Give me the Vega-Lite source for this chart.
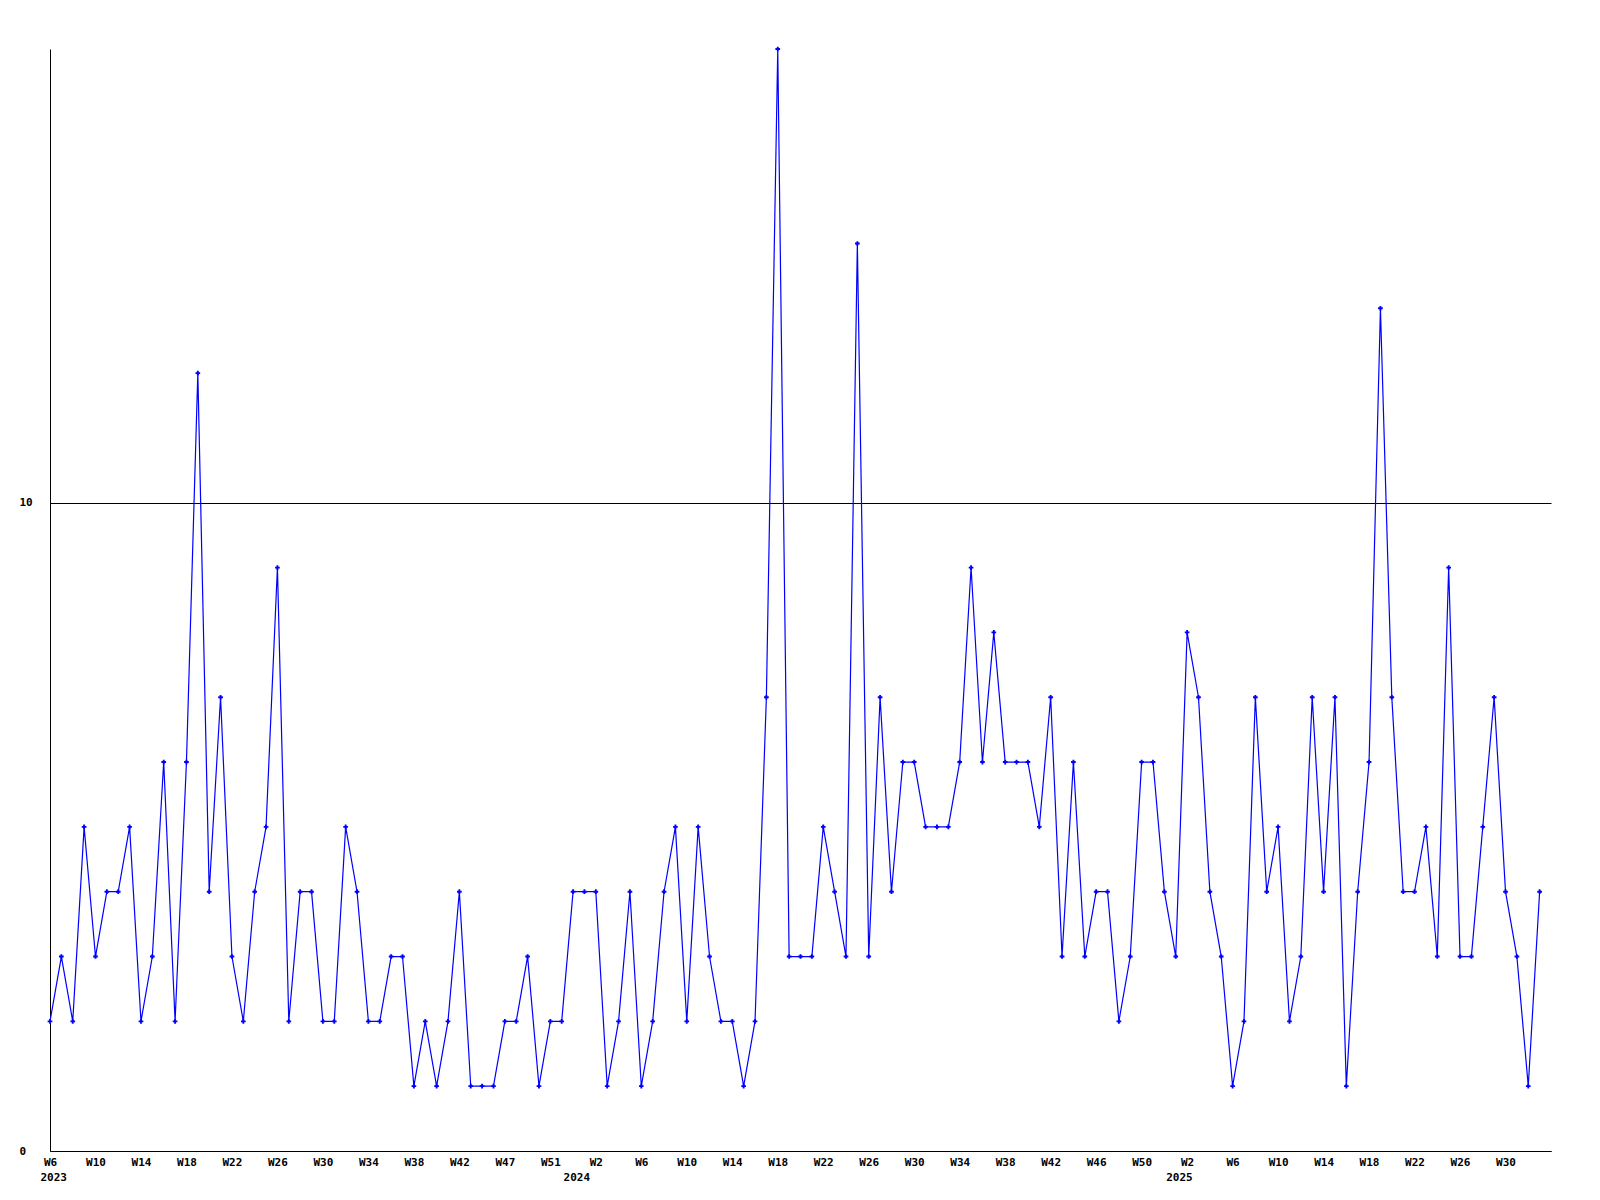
{
  "$schema": "https://vega.github.io/schema/vega-lite/v6.json",
  "width": 1501,
  "height": 1102,
  "autosize": "none",
  "padding": {"left": 50, "top": 49, "right": 49, "bottom": 49},
  "background": "white",
  "config": {"view": {"stroke": null}},
  "data": {"values": [
    {"week_start": "2023-02-06", "count": 2},
    {"week_start": "2023-02-13", "count": 3},
    {"week_start": "2023-02-20", "count": 2},
    {"week_start": "2023-02-27", "count": 5},
    {"week_start": "2023-03-06", "count": 3},
    {"week_start": "2023-03-13", "count": 4},
    {"week_start": "2023-03-20", "count": 4},
    {"week_start": "2023-03-27", "count": 5},
    {"week_start": "2023-04-03", "count": 2},
    {"week_start": "2023-04-10", "count": 3},
    {"week_start": "2023-04-17", "count": 6},
    {"week_start": "2023-04-24", "count": 2},
    {"week_start": "2023-05-01", "count": 6},
    {"week_start": "2023-05-08", "count": 12},
    {"week_start": "2023-05-15", "count": 4},
    {"week_start": "2023-05-22", "count": 7},
    {"week_start": "2023-05-29", "count": 3},
    {"week_start": "2023-06-05", "count": 2},
    {"week_start": "2023-06-12", "count": 4},
    {"week_start": "2023-06-19", "count": 5},
    {"week_start": "2023-06-26", "count": 9},
    {"week_start": "2023-07-03", "count": 2},
    {"week_start": "2023-07-10", "count": 4},
    {"week_start": "2023-07-17", "count": 4},
    {"week_start": "2023-07-24", "count": 2},
    {"week_start": "2023-07-31", "count": 2},
    {"week_start": "2023-08-07", "count": 5},
    {"week_start": "2023-08-14", "count": 4},
    {"week_start": "2023-08-21", "count": 2},
    {"week_start": "2023-08-28", "count": 2},
    {"week_start": "2023-09-04", "count": 3},
    {"week_start": "2023-09-11", "count": 3},
    {"week_start": "2023-09-18", "count": 1},
    {"week_start": "2023-09-25", "count": 2},
    {"week_start": "2023-10-02", "count": 1},
    {"week_start": "2023-10-09", "count": 2},
    {"week_start": "2023-10-16", "count": 4},
    {"week_start": "2023-10-23", "count": 1},
    {"week_start": "2023-10-30", "count": 1},
    {"week_start": "2023-11-06", "count": 1},
    {"week_start": "2023-11-13", "count": 2},
    {"week_start": "2023-11-20", "count": 2},
    {"week_start": "2023-11-27", "count": 3},
    {"week_start": "2023-12-04", "count": 1},
    {"week_start": "2023-12-11", "count": 2},
    {"week_start": "2023-12-18", "count": 2},
    {"week_start": "2023-12-25", "count": 4},
    {"week_start": "2024-01-01", "count": 4},
    {"week_start": "2024-01-08", "count": 4},
    {"week_start": "2024-01-15", "count": 1},
    {"week_start": "2024-01-22", "count": 2},
    {"week_start": "2024-01-29", "count": 4},
    {"week_start": "2024-02-05", "count": 1},
    {"week_start": "2024-02-12", "count": 2},
    {"week_start": "2024-02-19", "count": 4},
    {"week_start": "2024-02-26", "count": 5},
    {"week_start": "2024-03-04", "count": 2},
    {"week_start": "2024-03-11", "count": 5},
    {"week_start": "2024-03-18", "count": 3},
    {"week_start": "2024-03-25", "count": 2},
    {"week_start": "2024-04-01", "count": 2},
    {"week_start": "2024-04-08", "count": 1},
    {"week_start": "2024-04-15", "count": 2},
    {"week_start": "2024-04-22", "count": 7},
    {"week_start": "2024-04-29", "count": 17},
    {"week_start": "2024-05-06", "count": 3},
    {"week_start": "2024-05-13", "count": 3},
    {"week_start": "2024-05-20", "count": 3},
    {"week_start": "2024-05-27", "count": 5},
    {"week_start": "2024-06-03", "count": 4},
    {"week_start": "2024-06-10", "count": 3},
    {"week_start": "2024-06-17", "count": 14},
    {"week_start": "2024-06-24", "count": 3},
    {"week_start": "2024-07-01", "count": 7},
    {"week_start": "2024-07-08", "count": 4},
    {"week_start": "2024-07-15", "count": 6},
    {"week_start": "2024-07-22", "count": 6},
    {"week_start": "2024-07-29", "count": 5},
    {"week_start": "2024-08-05", "count": 5},
    {"week_start": "2024-08-12", "count": 5},
    {"week_start": "2024-08-19", "count": 6},
    {"week_start": "2024-08-26", "count": 9},
    {"week_start": "2024-09-02", "count": 6},
    {"week_start": "2024-09-09", "count": 8},
    {"week_start": "2024-09-16", "count": 6},
    {"week_start": "2024-09-23", "count": 6},
    {"week_start": "2024-09-30", "count": 6},
    {"week_start": "2024-10-07", "count": 5},
    {"week_start": "2024-10-14", "count": 7},
    {"week_start": "2024-10-21", "count": 3},
    {"week_start": "2024-10-28", "count": 6},
    {"week_start": "2024-11-04", "count": 3},
    {"week_start": "2024-11-11", "count": 4},
    {"week_start": "2024-11-18", "count": 4},
    {"week_start": "2024-11-25", "count": 2},
    {"week_start": "2024-12-02", "count": 3},
    {"week_start": "2024-12-09", "count": 6},
    {"week_start": "2024-12-16", "count": 6},
    {"week_start": "2024-12-23", "count": 4},
    {"week_start": "2024-12-30", "count": 3},
    {"week_start": "2025-01-06", "count": 8},
    {"week_start": "2025-01-13", "count": 7},
    {"week_start": "2025-01-20", "count": 4},
    {"week_start": "2025-01-27", "count": 3},
    {"week_start": "2025-02-03", "count": 1},
    {"week_start": "2025-02-10", "count": 2},
    {"week_start": "2025-02-17", "count": 7},
    {"week_start": "2025-02-24", "count": 4},
    {"week_start": "2025-03-03", "count": 5},
    {"week_start": "2025-03-10", "count": 2},
    {"week_start": "2025-03-17", "count": 3},
    {"week_start": "2025-03-24", "count": 7},
    {"week_start": "2025-03-31", "count": 4},
    {"week_start": "2025-04-07", "count": 7},
    {"week_start": "2025-04-14", "count": 1},
    {"week_start": "2025-04-21", "count": 4},
    {"week_start": "2025-04-28", "count": 6},
    {"week_start": "2025-05-05", "count": 13},
    {"week_start": "2025-05-12", "count": 7},
    {"week_start": "2025-05-19", "count": 4},
    {"week_start": "2025-05-26", "count": 4},
    {"week_start": "2025-06-02", "count": 5},
    {"week_start": "2025-06-09", "count": 3},
    {"week_start": "2025-06-16", "count": 9},
    {"week_start": "2025-06-23", "count": 3},
    {"week_start": "2025-06-30", "count": 3},
    {"week_start": "2025-07-07", "count": 5},
    {"week_start": "2025-07-14", "count": 7},
    {"week_start": "2025-07-21", "count": 4},
    {"week_start": "2025-07-28", "count": 3},
    {"week_start": "2025-08-04", "count": 1},
    {"week_start": "2025-08-11", "count": 4}
  ]},
  "encoding": {
    "y": {
      "field": "count",
      "type": "quantitative",
      "scale": {"domain": [0, 17], "nice": false, "zero": true},
      "axis": {
        "title": null,
        "values": [0, 10],
        "grid": true,
        "gridColor": "#000000",
        "gridOpacity": 1,
        "gridWidth": 1,
        "domain": true,
        "domainColor": "#000000",
        "domainWidth": 1,
        "ticks": false,
        "labelAlign": "left",
        "labelBaseline": "middle",
        "labelPadding": 31,
        "labelFont": "DejaVu Sans Mono",
        "labelFontWeight": "bold",
        "labelFontSize": 11,
        "labelColor": "#000000"
      }
    }
  },
  "layer": [
    {
      "mark": {"type": "line", "color": "#0000ff", "strokeWidth": 1.2},
      "encoding": {
        "x": {
          "field": "week_start",
          "type": "temporal",
          "scale": {
            "type": "utc",
            "domain": [
              {"year": 2023, "month": 2, "date": 6, "utc": true},
              {"year": 2025, "month": 8, "date": 18, "utc": true}
            ]
          },
          "axis": {
            "orient": "bottom",
            "title": null,
            "grid": false,
            "domain": true,
            "domainColor": "#000000",
            "domainWidth": 1,
            "ticks": false,
            "labelPadding": 5,
            "labelDx": -3,
            "labelBaseline": "top",
            "labelAlign": "center",
            "labelFlush": false,
            "labelOverlap": false,
            "labelFont": "DejaVu Sans Mono",
            "labelFontWeight": "bold",
            "labelFontSize": 11,
            "labelColor": "#000000",
            "values": [
              {"year": 2023, "month": 2, "date": 6, "utc": true},
              {"year": 2023, "month": 3, "date": 6, "utc": true},
              {"year": 2023, "month": 4, "date": 3, "utc": true},
              {"year": 2023, "month": 5, "date": 1, "utc": true},
              {"year": 2023, "month": 5, "date": 29, "utc": true},
              {"year": 2023, "month": 6, "date": 26, "utc": true},
              {"year": 2023, "month": 7, "date": 24, "utc": true},
              {"year": 2023, "month": 8, "date": 21, "utc": true},
              {"year": 2023, "month": 9, "date": 18, "utc": true},
              {"year": 2023, "month": 10, "date": 16, "utc": true},
              {"year": 2023, "month": 11, "date": 13, "utc": true},
              {"year": 2023, "month": 12, "date": 11, "utc": true},
              {"year": 2024, "month": 1, "date": 8, "utc": true},
              {"year": 2024, "month": 2, "date": 5, "utc": true},
              {"year": 2024, "month": 3, "date": 4, "utc": true},
              {"year": 2024, "month": 4, "date": 1, "utc": true},
              {"year": 2024, "month": 4, "date": 29, "utc": true},
              {"year": 2024, "month": 5, "date": 27, "utc": true},
              {"year": 2024, "month": 6, "date": 24, "utc": true},
              {"year": 2024, "month": 7, "date": 22, "utc": true},
              {"year": 2024, "month": 8, "date": 19, "utc": true},
              {"year": 2024, "month": 9, "date": 16, "utc": true},
              {"year": 2024, "month": 10, "date": 14, "utc": true},
              {"year": 2024, "month": 11, "date": 11, "utc": true},
              {"year": 2024, "month": 12, "date": 9, "utc": true},
              {"year": 2025, "month": 1, "date": 6, "utc": true},
              {"year": 2025, "month": 2, "date": 3, "utc": true},
              {"year": 2025, "month": 3, "date": 3, "utc": true},
              {"year": 2025, "month": 3, "date": 31, "utc": true},
              {"year": 2025, "month": 4, "date": 28, "utc": true},
              {"year": 2025, "month": 5, "date": 26, "utc": true},
              {"year": 2025, "month": 6, "date": 23, "utc": true},
              {"year": 2025, "month": 7, "date": 21, "utc": true}
            ],
            "labelExpr": "utcFormat(datum.value,'%Y-%m-%d')=='2023-11-13' ? 'W47' : utcFormat(datum.value,'%Y-%m-%d')=='2023-12-11' ? 'W51' : utcFormat(datum.value,'W%-V')"
          }
        }
      }
    },
    {
      "mark": {"type": "point", "shape": "cross", "filled": true, "size": 22, "color": "#0000ff", "opacity": 1},
      "encoding": {
        "x": {
          "field": "week_start",
          "type": "temporal",
          "axis": {
            "orient": "bottom",
            "title": null,
            "grid": false,
            "domain": false,
            "ticks": false,
            "labelPadding": 20,
            "labelBaseline": "top",
            "labelAlign": "center",
            "labelFlush": false,
            "labelOverlap": false,
            "labelFont": "DejaVu Sans Mono",
            "labelFontWeight": "bold",
            "labelFontSize": 11,
            "labelColor": "#000000",
            "values": [
              {"year": 2023, "month": 2, "date": 8, "utc": true},
              {"year": 2023, "month": 12, "date": 27, "utc": true},
              {"year": 2025, "month": 1, "date": 1, "utc": true}
            ],
            "labelExpr": "datum.value < 1700000000000 ? '2023' : datum.value < 1730000000000 ? '2024' : '2025'"
          }
        }
      }
    }
  ],
  "resolve": {"axis": {"x": "independent"}}
}
